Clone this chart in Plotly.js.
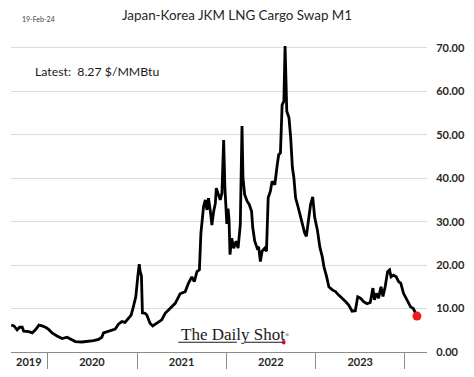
<!DOCTYPE html>
<html>
<head>
<meta charset="utf-8">
<script src="https://cdn.plot.ly/plotly-3.0.1.min.js"></script>
<style>
  html, body { margin: 0; padding: 0; background: #ffffff; }
  #chart { width: 474px; height: 377px; }
</style>
</head>
<body>
<div id="chart"></div>
<script>
// ---- data ----
const dates = [
  "2019-08-06","2019-08-17","2019-08-30","2019-09-09","2019-09-20","2019-09-26","2019-10-17","2019-10-31",
  "2019-11-13","2019-11-27","2019-12-10","2019-12-24",
  "2020-01-06","2020-01-20","2020-02-09","2020-03-01","2020-03-21","2020-04-10","2020-04-24","2020-05-21",
  "2020-06-17","2020-07-07","2020-07-28","2020-08-10","2020-08-17","2020-08-31","2020-09-20","2020-10-04",
  "2020-10-17","2020-10-31","2020-11-13","2020-11-27","2020-12-08","2020-12-17","2020-12-27",
  "2021-01-04","2021-01-10","2021-01-14","2021-01-19","2021-01-23","2021-02-03","2021-02-10","2021-02-23",
  "2021-03-06","2021-03-23","2021-04-12","2021-04-26","2021-05-16","2021-06-06","2021-06-26","2021-07-17",
  "2021-07-30","2021-08-13","2021-08-23","2021-09-03","2021-09-13","2021-09-19","2021-09-30","2021-10-07",
  "2021-10-14","2021-10-20","2021-10-27","2021-11-03","2021-11-10","2021-11-17","2021-11-21","2021-12-01",
  "2021-12-07","2021-12-14","2021-12-21","2021-12-26",
  "2022-01-03","2022-01-08","2022-01-12","2022-01-16","2022-01-23","2022-01-31","2022-02-10","2022-02-18",
  "2022-02-27","2022-03-06","2022-03-10","2022-03-17","2022-03-27","2022-04-05","2022-04-14","2022-04-19",
  "2022-04-27","2022-05-07","2022-05-13","2022-05-20","2022-05-27","2022-06-07","2022-06-14","2022-06-21",
  "2022-06-30","2022-07-07","2022-07-18","2022-07-28","2022-08-03","2022-08-10","2022-08-17","2022-08-24",
  "2022-08-29","2022-09-05","2022-09-14","2022-09-21","2022-09-28","2022-10-04","2022-10-11","2022-10-22",
  "2022-10-31","2022-11-09","2022-11-17","2022-11-24","2022-12-04","2022-12-11","2022-12-20","2022-12-28",
  "2023-01-08","2023-01-18","2023-01-28","2023-02-04","2023-02-15","2023-02-24","2023-03-10","2023-03-23",
  "2023-04-05","2023-04-19","2023-05-03","2023-05-16","2023-05-30","2023-06-12","2023-06-22","2023-07-03",
  "2023-07-16","2023-07-30","2023-08-12","2023-08-23","2023-08-29","2023-09-06","2023-09-15","2023-09-25",
  "2023-10-03","2023-10-12","2023-10-22","2023-10-30","2023-11-05","2023-11-15","2023-11-26","2023-12-06",
  "2023-12-15","2023-12-26",
  "2024-01-05","2024-01-14","2024-01-24","2024-02-04","2024-02-11","2024-02-19"
];
const prices = [
  6.2,6.0,5.1,5.7,5.7,4.8,4.7,4.4,
  5.1,6.2,6.0,5.7,
  5.2,4.4,3.7,3.1,3.4,2.8,2.4,2.3,
  2.4,2.6,2.9,3.4,4.4,4.7,5.1,5.3,
  6.4,7.0,6.8,7.7,8.5,10.4,12.7,
  17.3,20.2,18.5,17.5,9.0,8.9,8.5,6.6,
  6.0,6.7,7.4,8.9,10.0,11.2,13.4,13.9,
  15.8,17.3,16.2,18.5,18.9,27.3,33.5,35.0,
  32.7,35.4,32.7,29.2,32.3,34.2,37.7,36.1,
  35.0,36.5,48.8,38.0,
  29.5,33.0,30.5,22.4,26.2,23.9,25.5,23.9,
  29.3,52.0,40.1,36.2,34.7,33.9,32.4,28.6,
  25.5,23.9,24.2,20.8,23.2,23.9,23.2,35.5,
  37.0,39.3,38.5,43.1,45.4,45.8,56.9,57.7,
  70.4,55.4,53.9,49.3,42.4,40.1,35.5,33.2,
  31.0,28.6,27.4,26.6,30.9,33.9,35.7,31.0,
  28.1,24.2,21.9,19.6,17.3,15.0,14.3,13.9,
  13.1,12.4,11.6,10.8,9.4,9.5,12.7,12.4,
  11.6,11.1,11.4,14.7,12.0,13.5,12.4,15.0,
  12.8,15.0,18.5,18.9,17.3,17.7,17.3,16.2,
  15.8,13.5,
  12.4,11.6,10.4,10.0,9.3,8.27
];
const latestDate = ["2024-02-19"];
const latestValue = [8.27];
const yearLabels = ["2019","2020","2021","2022","2023"];
const yearLabelPos = ["2019-10-17","2020-07-01","2021-07-02","2022-07-02","2023-07-02"];
const yearBounds = ["2020-01-01","2021-01-01","2022-01-01","2023-01-01","2024-01-01"];
const yTicks = [0,10,20,30,40,50,60,70];
const titleText = "Japan-Korea JKM LNG Cargo Swap M1";
const dateStamp = "19-Feb-24";
const latestText = "Latest:  8.27 $/MMBtu";
const watermark = "The Daily Shot";

const traces = [
  {
    x: dates, y: prices, type: "scatter", mode: "lines",
    line: { color: "#000000", width: 2.8, shape: "linear" },
    hoverinfo: "skip", showlegend: false
  },
  {
    x: latestDate, y: latestValue, type: "scatter", mode: "markers",
    marker: { color: "#ee1c1c", size: 9 },
    hoverinfo: "skip", showlegend: false
  }
];

const layout = {
  width: 474, height: 377,
  margin: { l: 11, r: 47, t: 37, b: 25, pad: 0 },
  paper_bgcolor: "#ffffff", plot_bgcolor: "#ffffff",
  title: {
    text: titleText, xref: "container", x: 0.5, xanchor: "center",
    yref: "container", y: 0.96, yanchor: "middle",
    font: { family: "Lato, 'Open Sans', sans-serif", size: 13.4, color: "#262626" }
  },
  xaxis: {
    type: "date",
    range: ["2019-08-05", "2024-03-31"],
    showgrid: false, zeroline: false,
    showline: true, linecolor: "#8c8c8c", linewidth: 1,
    tickmode: "array", tickvals: yearLabelPos, ticktext: yearLabels,
    ticks: "", ticklen: 0,
    tickfont: { family: "Lato, 'Open Sans', sans-serif", size: 11, color: "#262626", weight: "bold" },
    minor: { tickmode: "array", tickvals: yearBounds, ticks: "outside", ticklen: 16, tickwidth: 1, tickcolor: "#8c8c8c", showgrid: false },
    automargin: false, fixedrange: true
  },
  yaxis: {
    range: [0, 72.5], side: "right",
    tickmode: "array", tickvals: yTicks, tickformat: ".2f",
    showgrid: true, gridcolor: "#dcdcdc", gridwidth: 1,
    zeroline: false, showline: false,
    ticks: "outside", ticklen: 6, tickcolor: "rgba(0,0,0,0)",
    tickfont: { family: "Lato, 'Open Sans', sans-serif", size: 11, color: "#262626", weight: "bold" },
    automargin: false, fixedrange: true
  },
  annotations: [
    {
      text: dateStamp, xref: "paper", yref: "paper", x: 0.0216, y: 1.057,
      xanchor: "left", yanchor: "middle", showarrow: false,
      font: { family: "Lato, 'Open Sans', sans-serif", size: 7, color: "#404040" }
    },
    {
      text: latestText, xref: "paper", yref: "paper", x: 0.053, y: 0.892,
      xanchor: "left", yanchor: "middle", showarrow: false,
      font: { family: "Lato, 'Open Sans', sans-serif", size: 12.3, color: "#1a1a1a" }
    },
    {
      text: watermark + "<span style='font-size:8px'><sup>®</sup></span>", xref: "paper", yref: "paper", x: 0.403, y: 0.057,
      xanchor: "left", yanchor: "middle", showarrow: false,
      font: { family: "'Liberation Serif', 'DejaVu Serif', serif", size: 17, color: "#1a1a1a" }
    }
  ],
  shapes: [
    { type: "line", xref: "paper", yref: "paper", x0: 0.402, x1: 0.543, y0: 0.031, y1: 0.031, line: { color: "#1a1a1a", width: 1.2 } },
    { type: "line", xref: "paper", yref: "paper", x0: 0.562, x1: 0.652, y0: 0.031, y1: 0.031, line: { color: "#1a1a1a", width: 1.2 } },
    { type: "circle", xref: "paper", yref: "paper", x0: 0.651, x1: 0.660, y0: 0.024, y1: 0.038, fillcolor: "#c8102e", line: { width: 0 } }
  ]
};

Plotly.newPlot("chart", traces, layout, { staticPlot: true, displayModeBar: false });
</script>
</body>
</html>
